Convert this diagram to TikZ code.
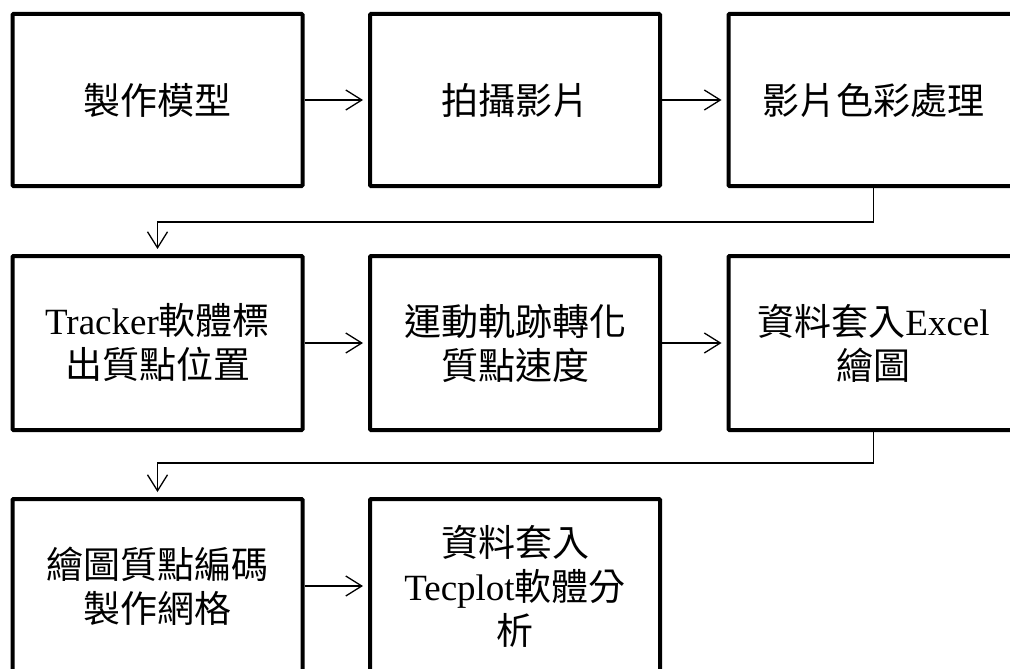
\documentclass[tikz,border=0pt]{standalone}
\usepackage{fontspec}
\setmainfont{Noto Sans CJK TC}
\newfontfamily\latin{Liberation Serif}
\usetikzlibrary{arrows.meta}

\begin{document}
\begin{tikzpicture}[x=1pt,y=-1pt,
    box/.style={draw,line width=4pt,rounded corners=1pt,inner sep=0pt,
      align=center,minimum width=290,minimum height=#1,
      font=\fontsize{37}{44}\selectfont},
    flow/.style={line width=1.3pt,shorten >=5pt,
      -{Straight Barb[length=16pt,width=20pt,line width=1.3pt]}}]
     \clip (0,0) rectangle (1010,669);

     % first row
     \node[box=172] (model) at (157.5,100) {製作模型};
     \node[box=172] (film) at (515,100) {拍攝影片};
     \node[box=172] (color) at (873.5,100) {影片色彩處理};

     % second row
     \node[box=174] (track) at (157.5,343)
       {{\latin Tracker}軟體標\\出質點位置};
     \node[box=174] (speed) at (515,343)
       {運動軌跡轉化\\質點速度};
     \node[box=174] (excel) at (873.5,343)
       {資料套入{\latin Excel}\\繪圖};

     % third row
     \node[box=174] (mesh) at (157.5,586)
       {繪圖質點編碼\\製作網格};
     \node[box=174] (tecplot) at (515,586)
       {資料套入\\{\latin Tecplot}軟體分\\析};

     \coordinate (bend1) at (157.5,222);
     \coordinate (bend2) at (157.5,463);

     \draw[flow] (model) -- (film);
     \draw[flow] (film) -- (color);
     \draw[flow] (color.south) |- (bend1) -- (track.north);
     \draw[flow] (track) -- (speed);
     \draw[flow] (speed) -- (excel);
     \draw[flow] (excel.south) |- (bend2) -- (mesh.north);
     \draw[flow] (mesh) -- (tecplot);
\end{tikzpicture}
\end{document}
